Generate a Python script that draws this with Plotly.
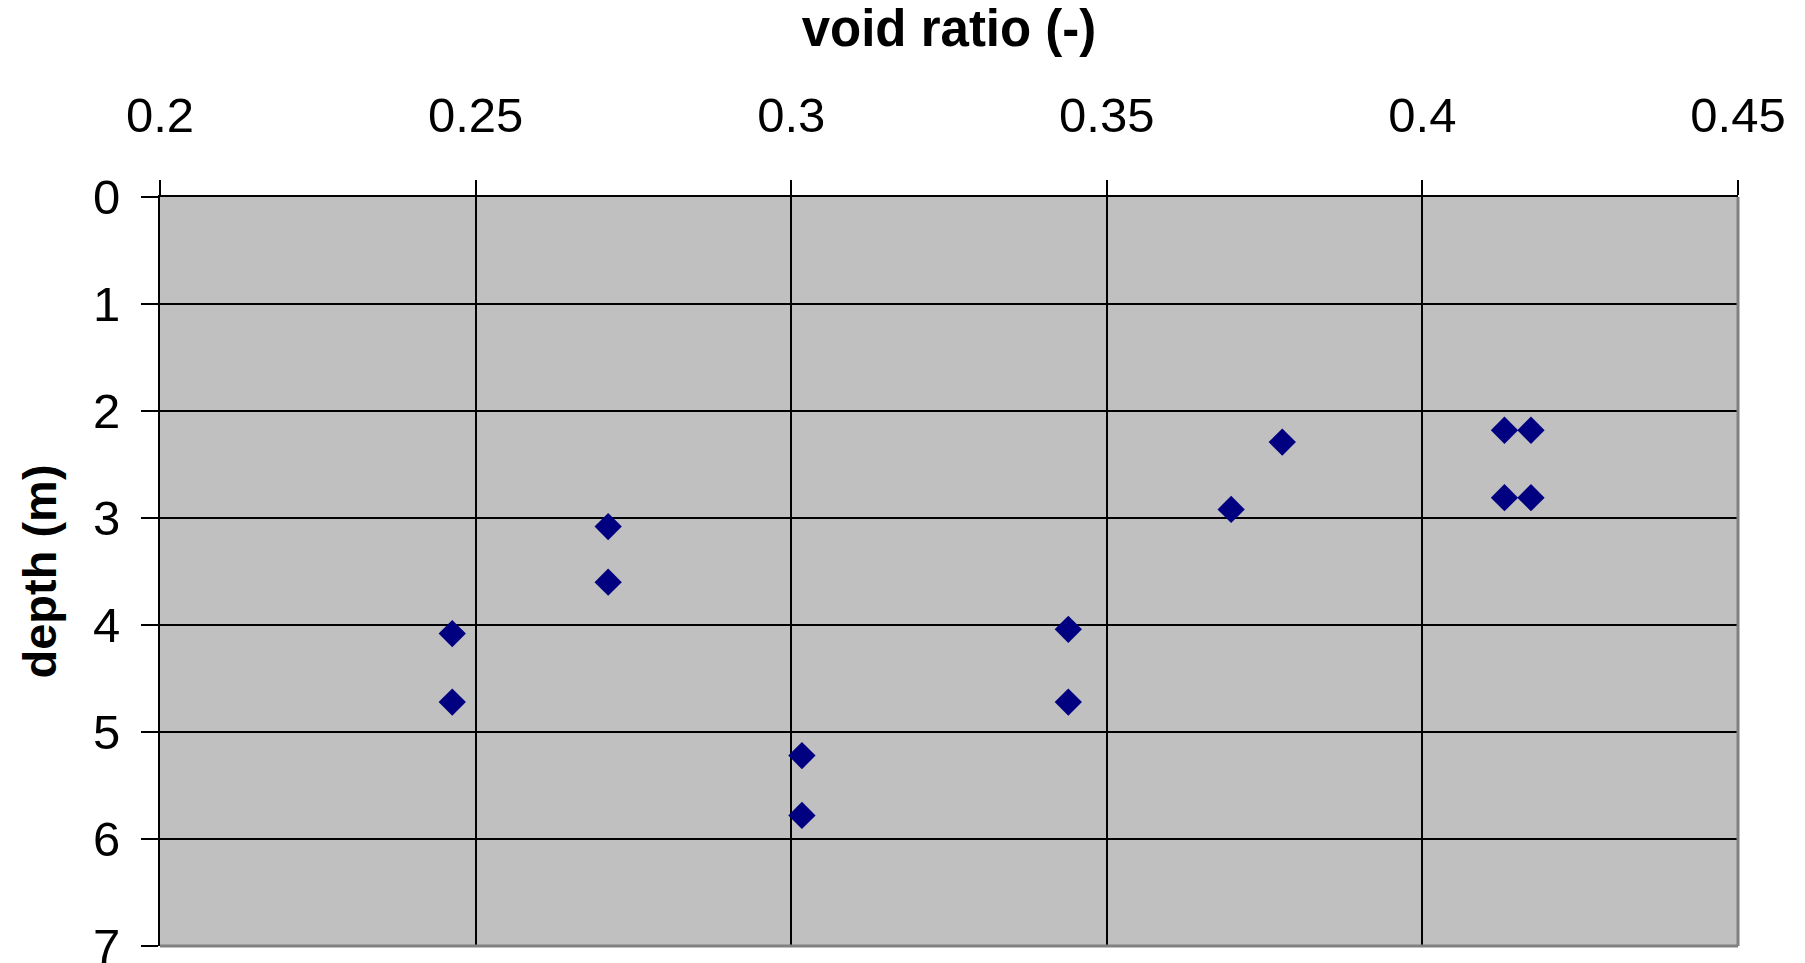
import plotly.graph_objects as go

# Void ratio measurements against sample depth
void_ratio = [0.2463, 0.2463, 0.2710, 0.2710, 0.3017, 0.3017, 0.3439, 0.3439,
              0.3778, 0.3697, 0.4130, 0.4172, 0.4130, 0.4172]
depth_m = [4.08, 4.72, 3.08, 3.60, 5.22, 5.78, 4.04, 4.72,
           2.29, 2.92, 2.18, 2.18, 2.81, 2.81]

x_ticks = [0.2, 0.25, 0.3, 0.35, 0.4, 0.45]
y_ticks = [0, 1, 2, 3, 4, 5, 6, 7]

FONT = "Liberation Sans, Arial, sans-serif"

fig = go.Figure()
fig.add_trace(go.Scatter(
    x=void_ratio, y=depth_m, mode="markers",
    marker=dict(symbol="diamond", size=21, color="#000080", line=dict(width=0)),
    showlegend=False, hoverinfo="x+y",
))

# grey drop-shadow edges on the right and bottom of the plot area
fig.add_shape(type="line", xref="paper", yref="paper", x0=1, x1=1, y0=0, y1=1,
              line=dict(color="#808080", width=3), layer="above")
fig.add_shape(type="line", xref="paper", yref="paper", x0=0, x1=1, y0=0, y1=0,
              line=dict(color="#808080", width=3), layer="above")

fig.update_layout(
    width=1805, height=963,
    margin=dict(l=160, r=67, t=197, b=17),
    paper_bgcolor="white", plot_bgcolor="#C0C0C0",
    font=dict(family=FONT, size=48, color="black"),
    xaxis=dict(
        side="top", range=[0.2, 0.45], tickvals=x_ticks,
        ticktext=[f"{v:g}" for v in x_ticks],
        showgrid=True, gridcolor="black", gridwidth=1.5,
        showline=True, linecolor="black", linewidth=2,
        ticks="outside", ticklen=15, tickwidth=1.5, tickcolor="black",
        tickfont=dict(size=49), zeroline=False, automargin=False,
        ticklabelstandoff=28, ticklabeloverflow="allow",
        title=dict(text="<b>void ratio (-)</b>", font=dict(size=51), standoff=26),
    ),
    yaxis=dict(
        range=[7, 0], tickvals=y_ticks,
        showgrid=True, gridcolor="black", gridwidth=1.5,
        showline=True, linecolor="black", linewidth=2,
        ticks="outside", ticklen=17, tickwidth=1.5, tickcolor="black",
        tickfont=dict(size=49), zeroline=False, automargin=False,
        ticklabelstandoff=11, ticklabeloverflow="allow",
        title=dict(text="<b>depth (m)</b>", font=dict(size=47), standoff=21),
    ),
)

fig.write_html("out.html")
